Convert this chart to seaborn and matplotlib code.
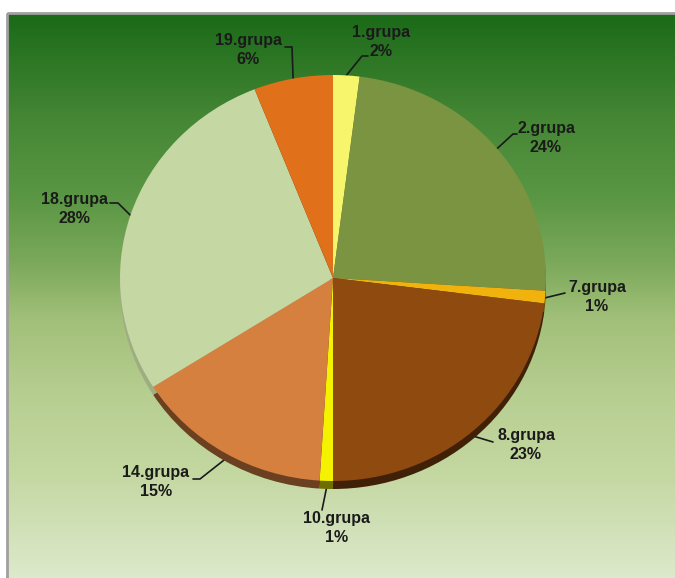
import numpy as np
import matplotlib
matplotlib.use("Agg")
import matplotlib.pyplot as plt
import seaborn as sns
from matplotlib.colors import to_rgb

# Data
groups = ["1.grupa", "2.grupa", "7.grupa", "8.grupa", "10.grupa", "14.grupa", "18.grupa", "19.grupa"]
shares = [2, 24, 1, 23, 1, 15, 28, 6]
pct_labels = ["2%", "24%", "1%", "23%", "1%", "15%", "28%", "6%"]
slice_hex = ["#f6f56c", "#7a9442", "#f2b20e", "#8f4a0f", "#f4f200", "#d5803f", "#c5d8a3", "#e0701a"]
rim_shade = [0.45, 0.45, 0.45, 0.45, 0.45, 0.5, 0.8, 0.45]

# Layout (pixels)
W, H = 675, 578
CX, CY = 333, 278
RX, RY = 213, 203
RIM = 8

# Label text centres and leader elbows (pixels)
label_pos = {
    "1.grupa": (381, 42), "2.grupa": (546, 138), "7.grupa": (597, 297),
    "8.grupa": (526, 445), "10.grupa": (337, 528), "14.grupa": (156, 482),
    "18.grupa": (74, 209), "19.grupa": (248, 50),
}
leader_pts = {
    "1.grupa": [(362, 56), (368, 56)], "2.grupa": [(513, 134), (517, 134)],
    "7.grupa": [(565, 293)], "8.grupa": [(493, 442)], "10.grupa": [(322, 510)],
    "14.grupa": [(200, 479), (193, 479)], "18.grupa": [(118, 203), (110, 203)],
    "19.grupa": [(292, 47), (285, 47)],
}

sns.set_style("white")
plt.rcParams["font.family"] = ["Liberation Sans", "DejaVu Sans"]
palette = sns.color_palette(slice_hex)

fig = plt.figure(figsize=(W / 100, H / 100), dpi=100)
fig.patch.set_facecolor("white")

# Background axes in pixel coordinates
bg = fig.add_axes([0, 0, 1, 1])
bg.set_xlim(0, W)
bg.set_ylim(H, 0)
bg.axis("off")

top_edge, left_edge = 13, 7
stops_y = [13, 120, 200, 260, 320, 400, 470, 578]
stops_c = ["#1a6a18", "#458735", "#5b9744", "#7aa85a", "#a2c079", "#b8cf92", "#c3d7a0", "#dde9cc"]
ys = np.arange(top_edge, H + 1)
rgb = np.array([to_rgb(c) for c in stops_c])
grad = np.stack([np.interp(ys, stops_y, rgb[:, k]) for k in range(3)], axis=-1)[:, None, :]
bg.imshow(grad, extent=[left_edge, W, H, top_edge], aspect="auto", interpolation="bilinear", zorder=0)
bg.plot([left_edge, W], [top_edge, top_edge], color="#a0a0a0", lw=2, zorder=1, solid_capstyle="butt")
bg.plot([left_edge, left_edge], [top_edge, H], color="#a0a0a0", lw=2, zorder=1, solid_capstyle="butt")

# Pie axes spanning the elliptical pie top
pie_ax = fig.add_axes([(CX - RX) / W, (H - CY - RY) / H, 2 * RX / W, 2 * RY / H])
pie_ax.patch.set_alpha(0)
rim_colors = [tuple(np.array(c) * f) for c, f in zip(palette, rim_shade)]
rim_w, _ = pie_ax.pie(shares, colors=rim_colors, startangle=90, counterclock=False,
                      center=(0, -RIM / RY), radius=1, wedgeprops=dict(linewidth=0))
top_w, _ = pie_ax.pie(shares, colors=palette, startangle=90, counterclock=False,
                      center=(0, 0), radius=1, wedgeprops=dict(linewidth=0))
for w in rim_w:
    w.set_zorder(1)
    w.set_clip_on(False)
for w in top_w:
    w.set_zorder(2)
    w.set_clip_on(False)
pie_ax.set_aspect("auto")
pie_ax.set_xlim(-1, 1)
pie_ax.set_ylim(-1, 1)
pie_ax.axis("off")

# Labels with leader lines anchored at each wedge's mid angle
cum = np.cumsum([0] + shares)
total = float(sum(shares))
for i, g in enumerate(groups):
    mid = (cum[i] + cum[i + 1]) / 2 / total
    ang = np.deg2rad(90 - 360 * mid)
    sx, sy = np.cos(ang), np.sin(ang)
    ax0 = CX + RX * sx
    ay0 = CY - RY * sy + RIM * max(0.0, -sy)
    pts = [(ax0, ay0)] + leader_pts[g]
    bg.plot([p[0] for p in pts], [p[1] for p in pts], color="#1a1a1a", lw=1.2, zorder=3)
    tx, ty = label_pos[g]
    bg.text(tx, ty, f"{g}\n{pct_labels[i]}", ha="center", va="center", fontsize=11.5,
            fontweight="bold", color="#1a1a1a", linespacing=1.3, zorder=4)

fig.savefig("out.png", dpi=100)
